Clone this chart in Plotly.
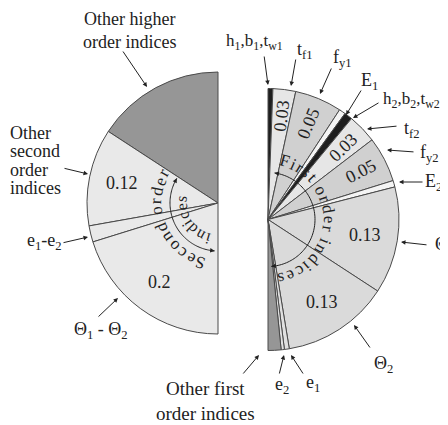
import numpy as np
import plotly.graph_objects as go

# the page body keeps its default 8px margin, so the figure is drawn 8px in
OFF = 8
W, H = 448 - OFF, 425 - OFF
FONT = "Times New Roman, Liberation Serif, DejaVu Serif, serif"
INK = "#222222"
EDGE = "#4a4a4a"

# left half: second and higher order indices, counterclockwise from 12 o'clock
left_names = ["Other higher order indices", "Other second order indices", "e1-e2", "Θ1-Θ2"]
left_values = [0.158, 0.12, 0.02, 0.202]
left_text = ["", "0.12", "", "0.2"]
left_colors = ["#969696", "#e9e9e9", "#e9e9e9", "#e9e9e9"]

# right half: first order indices, clockwise from 12 o'clock
right_names = ["h1,b1,tw1", "tf1", "fy1", "E1", "h2,b2,tw2", "tf2", "fy2", "E2",
               "Θ1", "Θ2", "e1", "e2", "Other first order indices"]
right_values = [0.006, 0.028, 0.058, 0.008, 0.01, 0.036, 0.056, 0.008,
                0.132, 0.132, 0.006, 0.004, 0.016]
right_text = ["", "0.03", "0.05", "", "", "0.03", "0.05", "", "0.13", "0.13", "", "", ""]
right_colors = ["#1e1e1e", "#e6e6e6", "#d0d0d0", "#f4f4f4", "#1e1e1e", "#e6e6e6", "#d0d0d0",
                "#f4f4f4", "#dadada", "#dadada", "#e0e0e0", "#e0e0e0", "#969696"]

LEFT_C = (218, 203)
RIGHT_C = (268, 219.5)
R = 131


def px(x):
    return (x - OFF) / W


def py(y):
    return 1 - (y - OFF) / H


def domain(c):
    return dict(x=[px(c[0] - R), px(c[0] + R)], y=[py(c[1] + R), py(c[1] - R)])


def polar(c, r, deg):
    # deg measured clockwise from 12 o'clock, screen pixels
    a = np.radians(deg)
    return c[0] + r * np.sin(a), c[1] - r * np.cos(a)


fig = go.Figure()
clear = "rgba(0,0,0,0)"
fig.add_trace(go.Pie(
    values=[0.5] + left_values, labels=["left gap"] + left_names,
    direction="counterclockwise", sort=False, rotation=0,
    marker=dict(colors=[clear] + left_colors,
                line=dict(color=[clear] + [EDGE] * len(left_values),
                          width=[0] + [1] * len(left_values))),
    textinfo="none", hoverinfo="skip", domain=domain(LEFT_C), showlegend=False))
fig.add_trace(go.Pie(
    values=right_values + [0.5], labels=right_names + ["right gap"],
    direction="clockwise", sort=False, rotation=0,
    marker=dict(colors=right_colors + [clear],
                line=dict(color=[EDGE] * len(right_values) + [clear],
                          width=[1] * len(right_values) + [0])),
    textinfo="none", hoverinfo="skip", domain=domain(RIGHT_C), showlegend=False))

ann = []
shapes = []


def text_at(t, x, y, size=19, angle=0, anchor="center"):
    ann.append(dict(x=px(x), y=py(y), xref="paper", yref="paper", text=t, showarrow=False,
                    textangle=((angle + 180) % 360) - 180, xanchor=anchor, yanchor="middle",
                    font=dict(family=FONT, size=size, color=INK)))


def arrow(tail, head):
    ann.append(dict(x=px(head[0]), y=py(head[1]), xref="paper", yref="paper", text="",
                    showarrow=True, ax=tail[0] - head[0], ay=tail[1] - head[1],
                    arrowhead=2, arrowsize=0.9, arrowwidth=1, arrowcolor=INK))


def value_labels(c, values, texts, sign):
    cum = 0
    for v, t in zip(values, texts):
        mid = sign * (cum + v / 2) * 360
        cum += v
        if not t:
            continue
        small = v < 0.08
        r = 0.8 * R if small else 0.75 * R
        x, y = polar(c, r, mid)
        text_at(t, x, y, size=18, angle=(mid - 90) if small else 0)


value_labels(LEFT_C, left_values, left_text, -1)
value_labels(RIGHT_C, right_values, right_text, 1)

# curved captions inside the halves
WIDTHS = {"S": 0.556, "F": 0.556, "e": 0.444, "c": 0.444, "o": 0.5, "n": 0.5, "d": 0.5,
          " ": 0.25, "r": 0.333, "i": 0.278, "s": 0.389, "t": 0.278}


def arc_text(s, c, r, start, size=17, spread=1.35):
    pos = start
    for ch in s:
        step = np.degrees(WIDTHS.get(ch, 0.5) * size * spread / r)
        mid = pos + step / 2
        if ch != " ":
            x, y = polar(c, r, mid)
            text_at(ch, x, y, size=size, angle=mid)
        pos += step


def arc_arrow(c, r, a0, a1):
    t = np.linspace(a0, a1, 80)
    xs, ys = polar(c, r, t)
    path = "M " + " L ".join(f"{px(x):.5f},{py(y):.5f}" for x, y in zip(xs, ys))
    shapes.append(dict(type="path", path=path, xref="paper", yref="paper", layer="above",
                       line=dict(color=INK, width=1)))
    arrow(polar(c, r, a0 + 6), polar(c, r, a0))
    arrow(polar(c, r, a1 - 6), polar(c, r, a1))


arc_text("Second order", LEFT_C, 62, 190, size=17, spread=1.35)
arc_text("indices", LEFT_C, 37, 192, size=16, spread=1.3)
arc_arrow(LEFT_C, 48, 184, 301)

arc_text("First order indices", RIGHT_C, 61, 9, size=17, spread=1.4)
arc_arrow(RIGHT_C, 47, 8, 176)

# callouts: text, text centre, font size, arrow tail, arrow head
callouts = [
    ("Other higher<br>order indices", (129, 30), 18, (122, 50), (147, 87)),
    ("e<sub>1</sub>-e<sub>2</sub>", (44, 242), 18, (62, 243), (88, 237)),
    ("Θ<sub>1</sub> - Θ<sub>2</sub>", (101, 330), 18, (97, 318), (118, 298)),
    ("h<sub>1</sub>,b<sub>1</sub>,t<sub>w1</sub>", (254, 42), 17, (264, 55), (268, 85)),
    ("t<sub>f1</sub>", (305, 50), 18, (296, 58), (291, 86)),
    ("f<sub>y1</sub>", (342, 58), 18, (332, 67), (320, 94)),
    ("E<sub>1</sub>", (369, 81), 18, (362, 89), (346, 115)),
    ("h<sub>2</sub>,b<sub>2</sub>,t<sub>w2</sub>", (411, 100), 17, (380, 102), (353, 118)),
    ("t<sub>f2</sub>", (412, 130), 18, (398, 126), (367, 129)),
    ("f<sub>y2</sub>", (429, 153), 18, (415, 152), (387, 150)),
    ("E<sub>2</sub>", (433, 182), 18, (424, 182), (399, 182)),
    ("Θ<sub>1</sub>", (444, 245), 18, (428, 245), (401, 242)),
    ("Θ<sub>2</sub>", (383, 364), 18, (371, 349), (354, 325)),
    ("e<sub>2</sub>", (282, 385), 18, (279, 375), (284, 355)),
    ("e<sub>1</sub>", (313, 383), 18, (304, 375), (291, 355)),
    ("Other first<br>order indices", (205, 401), 19, (242, 375), (259, 355)),
]
for t, pos, size, tail, head in callouts:
    text_at(t, pos[0], pos[1], size=size)
    arrow(tail, head)

for i, line in enumerate(["Other", "second", "order", "indices"]):
    text_at(line, 8, 133 + 18.3 * i, size=18, anchor="left")
arrow((63, 168), (88, 174))

fig.update_layout(
    width=W, height=H,
    margin=dict(l=0, r=0, t=0, b=0),
    paper_bgcolor="white", plot_bgcolor="white",
    font=dict(family=FONT, size=19, color=INK),
    annotations=ann, shapes=shapes,
    showlegend=False,
)

fig.write_html("out.html")
